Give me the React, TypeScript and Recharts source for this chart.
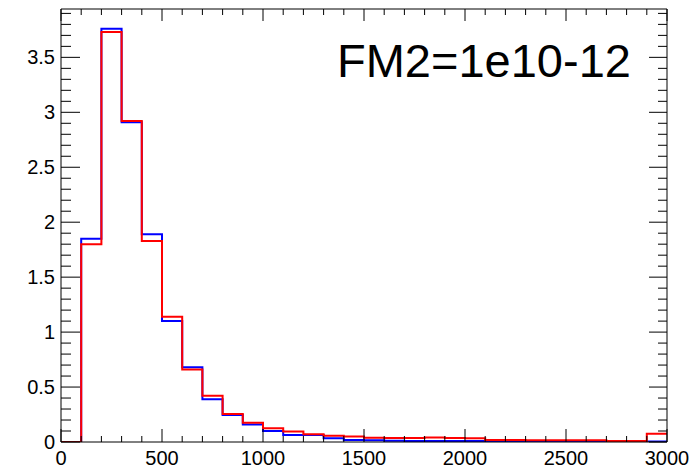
import { ComposedChart, Line, XAxis, YAxis } from 'recharts'

// bin edges (GeV-ish), 30 bins of width 100
const binEdges = [
  0, 100, 200, 300, 400, 500, 600, 700, 800, 900,
  1000, 1100, 1200, 1300, 1400, 1500, 1600, 1700, 1800, 1900,
  2000, 2100, 2200, 2300, 2400, 2500, 2600, 2700, 2800, 2900, 3000
]

// bin contents
const blueCounts = [
  0, 1.85, 3.76, 2.91, 1.89, 1.1, 0.68, 0.39, 0.245, 0.16,
  0.1, 0.064, 0.064, 0.035, 0.018, 0.015, 0.012, 0.01, 0.01, 0.01,
  0.008, 0.006, 0.006, 0.005, 0.005, 0.005, 0.005, 0.005, 0.005, 0.005
]
const redCounts = [
  0, 1.8, 3.73, 2.92, 1.83, 1.14, 0.66, 0.42, 0.255, 0.175,
  0.125, 0.095, 0.07, 0.058, 0.05, 0.038, 0.037, 0.037, 0.04, 0.036,
  0.035, 0.018, 0.018, 0.017, 0.017, 0.016, 0.016, 0.008, 0.008, 0.075
]

const xTicks = binEdges
const yTicks = [
  0, 0.1, 0.2, 0.3, 0.4, 0.5, 0.6, 0.7, 0.8, 0.9,
  1, 1.1, 1.2, 1.3, 1.4, 1.5, 1.6, 1.7, 1.8, 1.9,
  2, 2.1, 2.2, 2.3, 2.4, 2.5, 2.6, 2.7, 2.8, 2.9,
  3, 3.1, 3.2, 3.3, 3.4, 3.5, 3.6, 3.7, 3.8, 3.9
]
const title = 'FM2=1e10-12'

const FONT = '"Liberation Sans", Arial, Helvetica, sans-serif'

// step line needs a closing point at the last edge
const data = binEdges.map((x, i) => ({
  x,
  blue: blueCounts[Math.min(i, blueCounts.length - 1)],
  red: redCounts[Math.min(i, redCounts.length - 1)]
}))

const isMajorX = (v: number) => v % 500 === 0
const isMajorY = (v: number) => Math.abs(v * 2 - Math.round(v * 2)) < 1e-6
const fmtY = (v: number) => String(Math.round(v * 10) / 10)

const BottomTick = ({ x, y, payload }: any) => {
  const major = isMajorX(payload.value)
  return (
    <g>
      <line x1={x} y1={y} x2={x} y2={y - (major ? 13 : 6)} stroke="#000" />
      {major && (
        <text x={x} y={y + 23} textAnchor="middle" fontSize={20} fontFamily={FONT} fill="#000">
          {payload.value}
        </text>
      )}
    </g>
  )
}

const TopTick = ({ x, y, payload }: any) => {
  const major = isMajorX(payload.value)
  return <line x1={x} y1={y} x2={x} y2={y + (major ? 12 : 6)} stroke="#000" />
}

const LeftTick = ({ x, y, payload }: any) => {
  const major = isMajorY(payload.value)
  return (
    <g>
      <line x1={x} y1={y} x2={x + (major ? 19 : 10)} y2={y} stroke="#000" />
      {major && (
        <text x={x - 6} y={y + 7} textAnchor="end" fontSize={20} fontFamily={FONT} fill="#000">
          {fmtY(payload.value)}
        </text>
      )}
    </g>
  )
}

const RightTick = ({ x, y, payload }: any) => {
  const major = isMajorY(payload.value)
  return <line x1={x} y1={y} x2={x - (major ? 18 : 9)} y2={y} stroke="#000" />
}

export default function App() {
  return (
    <div style={{ position: 'absolute', left: 0, top: 0, width: 694, height: 468, background: '#fff' }}>
      <ComposedChart width={694} height={468} data={data} margin={{ top: 0, right: 0, bottom: 0, left: 0 }}>
        <XAxis
          dataKey="x"
          type="number"
          domain={[0, 3000]}
          ticks={xTicks}
          interval={0}
          height={26}
          tickSize={0}
          tickMargin={0}
          tick={<BottomTick />}
          axisLine={{ stroke: '#000' }}
        />
        <XAxis
          xAxisId="top"
          dataKey="x"
          type="number"
          orientation="top"
          domain={[0, 3000]}
          ticks={xTicks}
          interval={0}
          height={9}
          tickSize={0}
          tickMargin={0}
          tick={<TopTick />}
          axisLine={{ stroke: '#000' }}
        />
        <YAxis
          type="number"
          domain={[0, 3.94]}
          ticks={yTicks}
          interval={0}
          width={61}
          tickSize={0}
          tickMargin={0}
          tick={<LeftTick />}
          axisLine={{ stroke: '#000' }}
          allowDataOverflow
        />
        <YAxis
          yAxisId="right"
          type="number"
          orientation="right"
          domain={[0, 3.94]}
          ticks={yTicks}
          interval={0}
          width={27}
          tickSize={0}
          tickMargin={0}
          tick={<RightTick />}
          axisLine={{ stroke: '#000' }}
          allowDataOverflow
        />
        <Line type="stepAfter" dataKey="blue" stroke="#0000ff" strokeWidth={2} dot={false} isAnimationActive={false} />
        <Line type="stepAfter" dataKey="red" stroke="#ff0000" strokeWidth={2} dot={false} isAnimationActive={false} />
      </ComposedChart>
      <svg width={694} height={468} style={{ position: 'absolute', left: 0, top: 0, pointerEvents: 'none' }}>
        <text x={337} y={77} fontSize={47} fontFamily={FONT} fill="#000">
          {title}
        </text>
      </svg>
    </div>
  )
}
